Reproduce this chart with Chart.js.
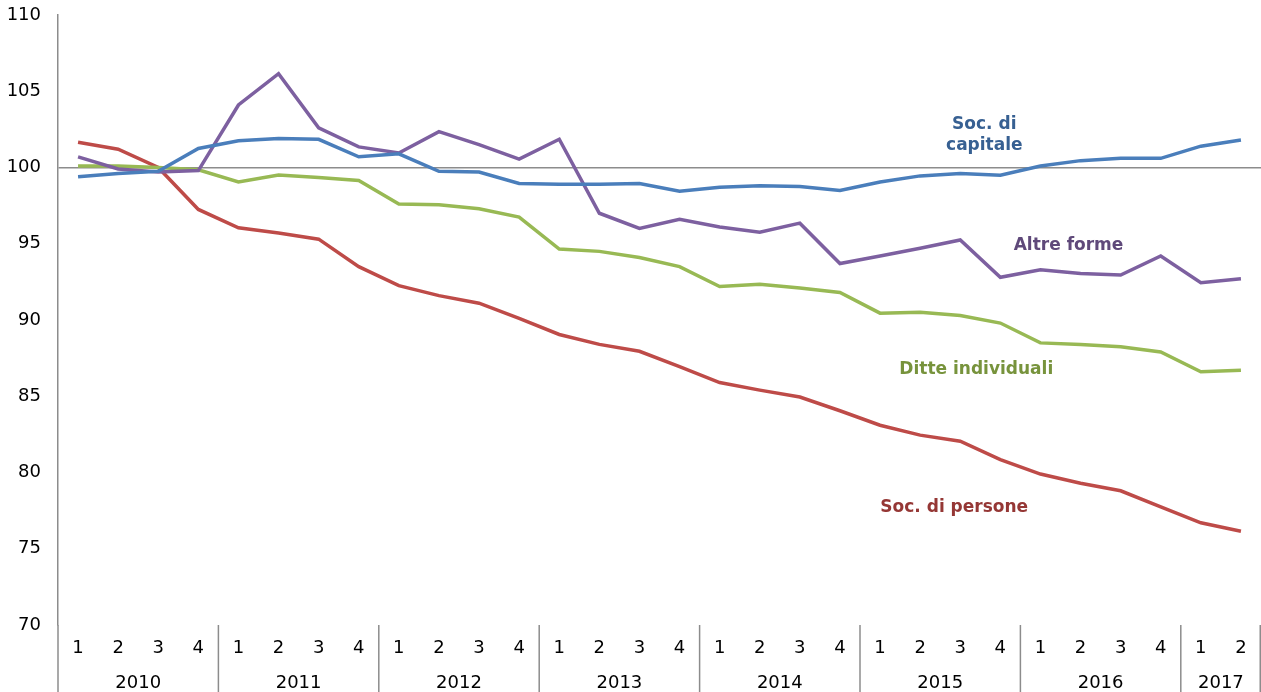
<!DOCTYPE html>
<html>
<head>
<meta charset="utf-8">
<script src="https://cdn.jsdelivr.net/npm/chart.js@4/dist/chart.umd.min.js"></script>
<style>
  html, body { margin: 0; padding: 0; background: #fff; }
  #wrap { width: 1261px; height: 692px; }
</style>
</head>
<body>
<div id="wrap"><canvas id="chart"></canvas></div>
<script>
// Quarters 2010 Q1 – 2017 Q2
const years    = ['2010', '2011', '2012', '2013', '2014', '2015', '2016', '2017'];
const quarters = ['1','2','3','4','1','2','3','4','1','2','3','4','1','2','3','4',
                  '1','2','3','4','1','2','3','4','1','2','3','4','1','2'];

const socCapitale = [99.4, 99.6, 99.75, 101.25, 101.75, 101.9, 101.85, 100.7, 100.9, 99.75,
                     99.7, 98.95, 98.9, 98.9, 98.95, 98.45, 98.7, 98.8, 98.75, 98.5,
                     99.05, 99.45, 99.6, 99.5, 100.1, 100.45, 100.6, 100.6, 101.4, 101.8];
const altreForme  = [100.7, 99.9, 99.7, 99.8, 104.1, 106.15, 102.6, 101.35, 100.95, 102.35,
                     101.5, 100.55, 101.85, 97.0, 96.0, 96.6, 96.1, 95.75, 96.35, 93.7,
                     94.2, 94.7, 95.25, 92.8, 93.3, 93.05, 92.95, 94.2, 92.45, 92.7];
const ditteIndiv  = [100.1, 100.1, 100.0, 99.85, 99.05, 99.5, 99.35, 99.15, 97.6, 97.55,
                     97.3, 96.75, 94.65, 94.5, 94.1, 93.5, 92.2, 92.35, 92.1, 91.8,
                     90.45, 90.5, 90.3, 89.8, 88.5, 88.4, 88.25, 87.9, 86.6, 86.7];
const socPersone  = [101.65, 101.2, 100.0, 97.25, 96.05, 95.7, 95.3, 93.5, 92.25, 91.6,
                     91.1, 90.1, 89.05, 88.4, 87.95, 86.95, 85.9, 85.4, 84.95, 84.05,
                     83.1, 82.45, 82.05, 80.85, 79.9, 79.3, 78.8, 77.75, 76.7, 76.15];

const yTicks = [70, 75, 80, 85, 90, 95, 100, 105, 110];

const FONT = '"DejaVu Sans", Verdana, sans-serif';

// in-chart series labels: [text lines, x index, y value, colour]
const seriesLabels = [
  { lines: ['Soc. di', 'capitale'], x: 22.6, y: 102.8, color: '#376092' },
  { lines: ['Altre forme'],         x: 24.7, y: 94.85, color: '#5f497a' },
  { lines: ['Ditte individuali'],   x: 22.4, y: 86.75, color: '#77933c' },
  { lines: ['Soc. di persone'],     x: 21.85, y: 77.7, color: '#953735' },
];

const yearAxisPlugin = {
  id: 'yearAxis',
  afterDraw(chart) {
    const ctx = chart.ctx;
    const x = chart.scales.x;
    const area = chart.chartArea;
    const step = x.getPixelForValue(1) - x.getPixelForValue(0);
    ctx.save();
    ctx.strokeStyle = '#8c8c8c';
    ctx.lineWidth = 1.5;
    let start = 0;
    years.forEach((yr, i) => {
      let count = 0;
      for (let k = start; k < quarters.length && (k === start || quarters[k] !== '1'); k++) count++;
      const left = x.getPixelForValue(start) - step / 2;
      const right = x.getPixelForValue(start + count - 1) + step / 2;
      ctx.beginPath();
      ctx.moveTo(left, area.bottom);
      ctx.lineTo(left, chart.height);
      ctx.stroke();
      if (i === years.length - 1) {
        ctx.beginPath();
        ctx.moveTo(Math.min(right, chart.width - 0.75), area.bottom);
        ctx.lineTo(Math.min(right, chart.width - 0.75), chart.height);
        ctx.stroke();
      }
      ctx.fillStyle = '#000';
      ctx.font = '18px ' + FONT;
      ctx.textAlign = 'center';
      ctx.textBaseline = 'middle';
      ctx.fillText(yr, (left + right) / 2, 683);
      start += count;
    });

    // series labels
    ctx.font = 'bold 17px ' + FONT;
    seriesLabels.forEach(l => {
      ctx.fillStyle = l.color;
      const px = x.getPixelForValue(0) + l.x * step;
      const py = chart.scales.y.getPixelForValue(l.y);
      l.lines.forEach((t, j) => ctx.fillText(t, px, py + j * 21));
    });
    ctx.restore();
  }
};

new Chart(document.getElementById('chart'), {
  type: 'line',
  data: {
    labels: quarters.map((q, i) => i),
    datasets: [
      { label: 'Soc. di capitale',  data: socCapitale, borderColor: '#4a7ebb' },
      { label: 'Altre forme',       data: altreForme,  borderColor: '#7d60a0' },
      { label: 'Ditte individuali', data: ditteIndiv,  borderColor: '#98b954' },
      { label: 'Soc. di persone',   data: socPersone,  borderColor: '#be4b48' },
    ].map(d => Object.assign(d, { borderWidth: 3.5, pointRadius: 0, tension: 0, fill: false }))
  },
  options: {
    responsive: true,
    maintainAspectRatio: false,
    animation: false,
    layout: { padding: { top: 15, right: 0, left: 0, bottom: 0 } },
    plugins: { legend: { display: false }, tooltip: { enabled: false } },
    scales: {
      x: {
        type: 'category',
        offset: true,
        grid: { display: false, drawTicks: false },
        border: { display: false },
        ticks: {
          color: '#000',
          font: { family: FONT, size: 18 },
          padding: 13,
          autoSkip: false,
          maxRotation: 0,
          callback: (v, i) => quarters[i]
        },
        afterFit(s) { s.height = 67; }
      },
      y: {
        min: 70,
        max: 110,
        afterBuildTicks(s) { s.ticks = yTicks.map(v => ({ value: v })); },
        grid: {
          drawTicks: false,
          color: c => c.tick && c.tick.value === 100 ? '#8c8c8c' : 'rgba(0,0,0,0)',
          lineWidth: 1.5
        },
        border: { display: true, color: '#8c8c8c', width: 1.5 },
        ticks: {
          color: '#000',
          font: { family: FONT, size: 18 },
          padding: 17
        },
        afterFit(s) { s.width = 58; s.paddingTop = 0; s.paddingBottom = 0; }
      }
    }
  },
  plugins: [yearAxisPlugin]
});
</script>
</body>
</html>
